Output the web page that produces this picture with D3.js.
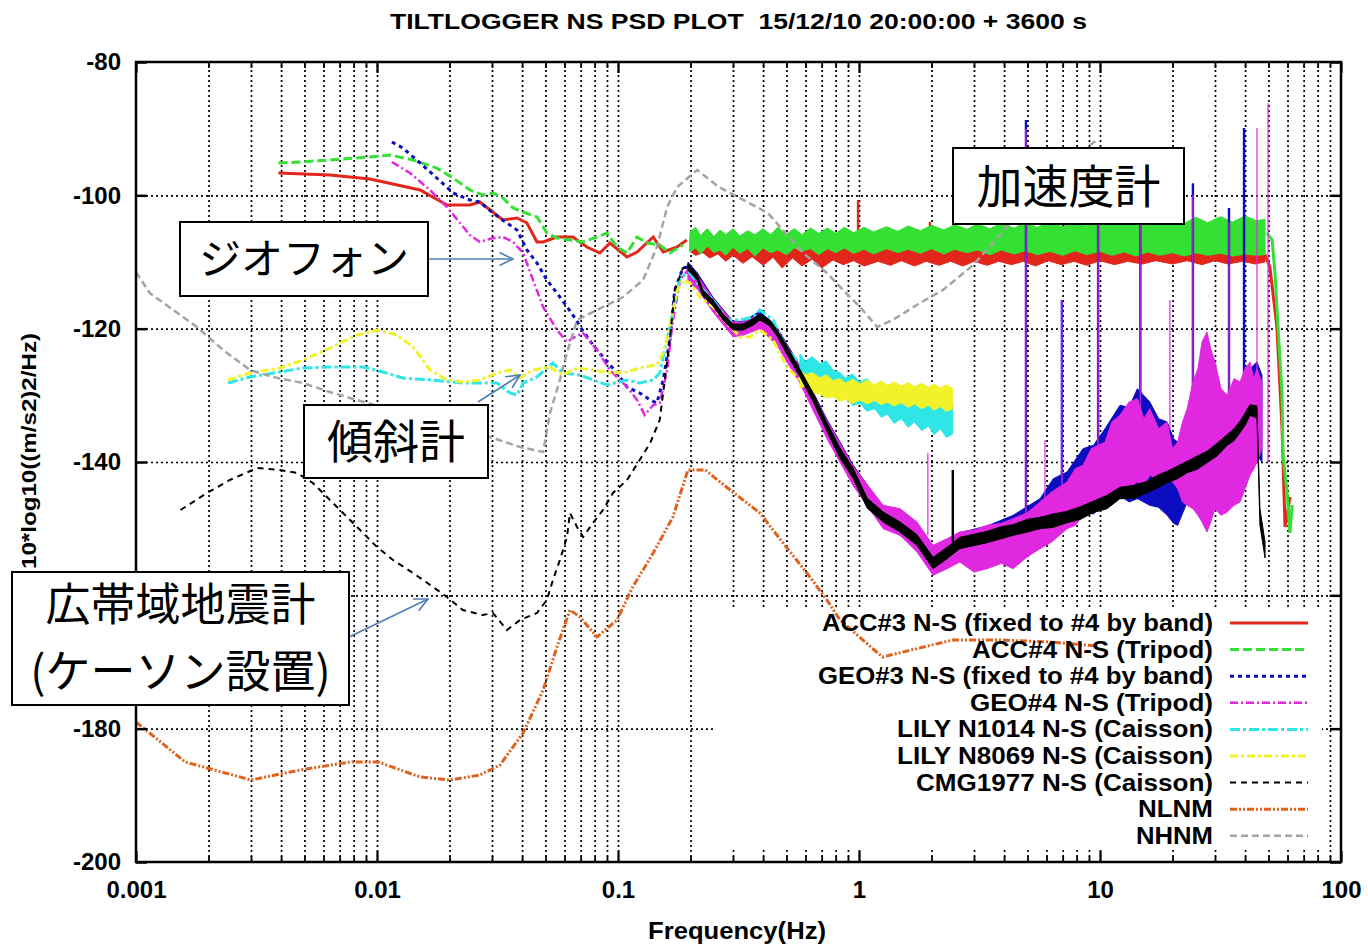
<!DOCTYPE html>
<html>
<head>
<meta charset="utf-8">
<script src="https://cdn.jsdelivr.net/npm/d3@7"></script>
<style>
  body { margin: 0; background: #fff; }
  text { font-family: "Liberation Sans", Arial, sans-serif; }
  .jp { font-family: "Noto Sans CJK JP", sans-serif; }
</style>
</head>
<body>
<svg id="chart" width="1368" height="946"></svg>
<script>
/* Axis ticks and labels (the -160 label sits under the annotation box in the original) */
var freqTicks = [0.001, 0.01, 0.1, 1, 10, 100];
var freqTickLabels = ["0.001", "0.01", "0.1", "1", "10", "100"];
var dbTicks = [-200, -180, -160, -140, -120, -100, -80];
var dbTickLabels = ["-200", "-180", "", "-140", "-120", "-100", "-80"];

var legendLabels = [
	"ACC#3 N-S (fixed to #4 by band)",
	"ACC#4 N-S (Tripod)",
	"GEO#3 N-S (fixed to #4 by band)",
	"GEO#4 N-S (Tripod)",
	"LILY N1014 N-S (Caisson)",
	"LILY N8069 N-S (Caisson)",
	"CMG1977 N-S (Caisson)",
	"NLNM",
	"NHNM"
];

/* Series values: [freq Hz, dB] for lines, [freq, upper dB, lower dB] for noisy bands,
   [freq, top dB, base dB] for narrow spikes */
var acc3Line = [[0.0039,-96.65],[0.00638,-96.95],[0.00935,-97.55],[0.0151,-99.2],[0.0195,-101.45],[0.0243,-101.45],[0.0267,-101.0],[0.0333,-103.7],[0.0381,-103.4],[0.0419,-104.15],[0.0461,-107.0],[0.0489,-107.0],[0.0558,-106.25],[0.065,-106.25],[0.0743,-107.75],[0.0841,-108.65],[0.0926,-107.15],[0.109,-109.25],[0.12,-108.5],[0.14,-106.25],[0.154,-108.5],[0.176,-107.75],[0.193,-106.7]];
var acc3Band = [[0.199,-106.3,-108.4],[0.21,-105.4,-109.0],[0.225,-106.6,-108.6],[0.24,-105.6,-109.4],[0.26,-106.9,-108.8],[0.28,-105.9,-109.9],[0.3,-107.0,-109.0],[0.33,-106.0,-110.2],[0.36,-107.2,-109.2],[0.4,-106.3,-110.5],[0.44,-107.3,-109.3],[0.48,-106.4,-110.9],[0.53,-107.4,-109.4],[0.58,-106.6,-110.6],[0.64,-107.5,-109.6],[0.7,-106.8,-110.9],[0.78,-107.6,-109.7],[0.86,-106.9,-110.4],[0.95,-107.7,-109.8],[1.05,-107.2,-110.6],[1.2,-107.8,-109.9],[1.35,-107.3,-110.5],[1.5,-107.9,-109.8],[1.7,-107.4,-110.6],[1.9,-108.0,-109.9],[2.15,-107.5,-110.5],[2.4,-108.1,-109.9],[2.7,-107.6,-110.6],[3.0,-108.1,-109.9],[3.4,-107.7,-110.5],[3.8,-108.2,-109.9],[4.3,-107.8,-110.4],[4.8,-108.3,-109.9],[5.4,-107.9,-110.6],[6.1,-108.3,-109.8],[6.9,-107.9,-110.4],[7.8,-108.4,-109.9],[8.8,-108.0,-110.5],[10,-108.4,-109.8],[11.5,-108.0,-110.4],[13,-108.4,-109.9],[15,-108.0,-110.3],[17,-108.5,-109.8],[20,-108.1,-110.3],[23,-108.5,-109.8],[26.5,-108.1,-110.4],[30,-108.5,-109.8],[34,-108.1,-110.3],[39,-108.5,-109.9],[44,-108.2,-110.3],[48.4,-108.4,-110.0]];
var acc3Tail = [[48.4,-108.9],[50.7,-110.75],[54.2,-119.75],[56.9,-134.75],[58.6,-149.75],[61.4,-145.25]];
var acc3Spikes = [[0.991,-100.7,-107],[1.97,-104,-107.5]];

var acc4Line = [[0.0039,-95.15],[0.00478,-95.0],[0.00638,-94.7],[0.00935,-94.25],[0.0113,-93.95],[0.0141,-94.7],[0.0177,-95.9],[0.0207,-97.4],[0.0243,-99.2],[0.0275,-99.95],[0.0303,-99.65],[0.0333,-100.4],[0.0367,-101.9],[0.0404,-102.5],[0.0461,-103.25],[0.0507,-105.65],[0.0558,-106.4],[0.0632,-106.7],[0.0716,-107.0],[0.0818,-106.25],[0.09,-105.65],[0.0991,-107.75],[0.109,-108.65],[0.12,-106.25],[0.132,-107.15],[0.149,-107.45],[0.164,-108.65],[0.186,-107.45]];
var acc4Band = [[0.199,-105.5,-108.5],[0.21,-104.8,-107.9],[0.22,-106.0,-108.8],[0.235,-105.0,-107.6],[0.25,-106.2,-108.6],[0.265,-105.2,-108.2],[0.28,-105.9,-109.0],[0.3,-105.0,-107.8],[0.32,-106.1,-108.7],[0.345,-105.3,-108.0],[0.37,-105.9,-109.1],[0.4,-105.0,-107.9],[0.43,-105.9,-108.6],[0.46,-104.8,-108.2],[0.5,-105.8,-108.9],[0.54,-105.0,-107.9],[0.58,-105.9,-108.4],[0.63,-104.9,-108.0],[0.68,-105.7,-108.9],[0.74,-104.9,-108.0],[0.8,-105.7,-108.6],[0.87,-104.8,-107.9],[0.95,-105.6,-108.7],[1.05,-104.8,-108.1],[1.15,-105.5,-108.8],[1.3,-104.7,-108.0],[1.45,-105.4,-108.6],[1.6,-104.6,-108.1],[1.8,-105.3,-108.7],[2.0,-104.5,-108.0],[2.25,-105.2,-108.8],[2.5,-104.4,-108.1],[2.8,-105.1,-108.6],[3.1,-104.3,-108.2],[3.5,-105.0,-108.9],[3.9,-104.2,-108.2],[4.4,-104.9,-108.8],[4.9,-104.1,-108.3],[5.5,-104.8,-108.9],[6.2,-104.0,-108.4],[7.0,-104.7,-109.0],[7.9,-103.9,-108.3],[8.8,-104.6,-108.9],[10,-103.8,-108.4],[11.2,-104.5,-109.0],[12.6,-103.6,-108.5],[14.1,-104.4,-109.1],[15.8,-103.5,-108.5],[17.7,-104.3,-109.0],[20,-103.4,-108.6],[22.4,-104.2,-109.1],[25,-103.3,-108.6],[28,-104.1,-109.0],[31.6,-103.2,-108.7],[35.5,-104.0,-109.1],[40,-103.1,-108.8],[44.7,-103.8,-109.0],[48.4,-103.6,-108.9]];
var acc4Tail = [[49.3,-105.65],[51.8,-106.7],[53.2,-111.65],[54.8,-119.75],[56.9,-129.65],[57.4,-138.65],[59.7,-144.65],[61.4,-150.65],[62.7,-146.45]];

var geo3Line = [[0.01153,-92.0],[0.0128,-92.9],[0.0151,-95.15],[0.0177,-97.4],[0.0207,-99.65],[0.0243,-100.7],[0.0267,-101.0],[0.0303,-102.65],[0.0346,-104.15],[0.0381,-105.2],[0.0419,-108.2],[0.0461,-110.15],[0.0507,-112.7],[0.0574,-115.25],[0.065,-117.95],[0.0716,-120.35],[0.0787,-122.45],[0.0866,-124.25],[0.0991,-126.65],[0.109,-128.75],[0.123,-129.65],[0.136,-130.7],[0.145,-131.15],[0.154,-127.7],[0.164,-121.7],[0.172,-114.2],[0.186,-110.9],[0.195,-110.75]];
var geo3Band = [[0.195,-110.0,-111.8],[0.213,-111.6,-113.2],[0.248,-115.3,-117],[0.3,-118.9,-120.6],[0.33,-118.9,-120.6],[0.388,-117.4,-119.2],[0.457,-119.8,-121.6],[0.569,-125.6,-127.6],[0.736,-133.6,-135.8],[0.944,-140.4,-142.8],[1.26,-146.8,-149.6],[1.48,-148.2,-151],[1.74,-149.8,-153],[2.03,-152.8,-156.4],[2.32,-151.8,-155],[2.62,-150.6,-154],[3.4,-149.6,-153],[4.36,-148,-152],[5.64,-145.5,-150.5],[6.4,-142.5,-150.2],[7.3,-141.5,-149],[8.5,-138,-147.5],[9.4,-137.5,-147.8],[10.5,-135,-146],[12.1,-131.5,-145],[13.2,-131.8,-146],[14.3,-129,-145.5],[16.1,-131,-146.5],[17.5,-133.5,-146.8],[19.0,-134,-148],[20.2,-136.5,-149.2],[21.0,-137,-149.5],[23.0,-135,-146],[25.5,-130,-145],[27.8,-127,-143],[30.0,-130,-144],[33.7,-132,-144],[38.1,-130,-142],[41.9,-126,-140],[44.8,-125,-139],[47,-127,-140]];
var geo3Spikes = [[4.93,-88.7,-148],[6.95,-115.7,-146],[9.82,-103.7,-144],[14.7,-104,-131],[24.3,-98.2,-136],[34.3,-101.9,-132],[39.6,-89.9,-131]];

var geo4Line = [[0.01153,-95.0],[0.0137,-96.65],[0.0166,-99.2],[0.0195,-101.75],[0.0221,-104.15],[0.0243,-105.95],[0.0267,-107.0],[0.0303,-106.4],[0.0333,-106.25],[0.0367,-107.0],[0.0404,-108.65],[0.0444,-112.7],[0.0489,-116.75],[0.0558,-120.2],[0.0614,-122.0],[0.065,-121.4],[0.0716,-120.65],[0.0818,-123.2],[0.0926,-126.2],[0.109,-128.75],[0.12,-130.7],[0.129,-132.95],[0.14,-131.45],[0.149,-131.15],[0.16,-126.2],[0.169,-118.7],[0.181,-112.7],[0.195,-111.2]];
var geo4Band = [[0.195,-110.5,-113],[0.213,-112,-114],[0.248,-115.5,-117.5],[0.3,-119,-121.2],[0.33,-119,-121],[0.388,-117.8,-120],[0.457,-120,-122.5],[0.569,-125.8,-128.2],[0.736,-133.8,-136.5],[0.944,-140.6,-143.5],[1.26,-146.5,-150],[1.48,-147,-151],[1.74,-149,-153.5],[2.03,-152.5,-157],[2.32,-151.5,-156],[2.62,-150.5,-155],[3.0,-150.2,-156.5],[3.4,-149.5,-156],[3.9,-149.2,-155.2],[4.36,-148.5,-156],[5.0,-147.6,-154.2],[5.64,-146,-153],[6.3,-144.5,-152],[7.3,-143,-150],[7.9,-141,-149.5],[8.5,-140.5,-148],[9.2,-138,-147.5],[10.5,-137,-146],[11.2,-134,-145.5],[12.1,-133,-144.5],[13.2,-131,-144],[14.3,-130.5,-143],[15.2,-133.5,-143.5],[16.1,-132,-142],[17.5,-135,-142.5],[19.0,-134,-141.5],[20,-138,-143],[21.0,-137,-144],[22,-134,-146],[23.0,-132,-146.5],[24.3,-128,-147],[25.5,-126,-148],[26.5,-122,-149],[27.8,-120.5,-150.5],[28.8,-123,-149],[30.0,-125,-147],[31.8,-129,-148],[33.7,-130,-147.5],[36,-127.5,-146.5],[38.1,-128,-146],[40,-126,-144],[41.9,-125,-142],[43.5,-127.5,-141],[44.8,-126,-140],[47,-128,-138]];
var geo4Spikes = [[1.93,-138.6,-151],[4.93,-90,-149],[5.91,-136.7,-148],[6.95,-115.7,-147],[9.82,-104,-145],[14.7,-104,-132],[19.5,-115.7,-135],[24.3,-100,-135],[34.3,-104,-132],[44.8,-89.9,-128],[49.8,-86.2,-140]];

var lily1014Line = [[0.00241,-128.15],[0.00297,-127.25],[0.00396,-126.5],[0.00493,-125.9],[0.00638,-125.75],[0.00875,-125.75],[0.0106,-126.5],[0.0128,-127.4],[0.0166,-127.7],[0.0227,-128.15],[0.0315,-128.15],[0.0356,-129.65],[0.0381,-129.95],[0.0404,-128.15],[0.0461,-127.25],[0.0537,-125.15],[0.0591,-126.65],[0.0695,-126.95],[0.09,-128.45],[0.109,-127.7],[0.123,-128.15],[0.14,-127.7],[0.149,-126.65],[0.164,-119.75],[0.181,-112.25],[0.199,-111.65],[0.219,-113.75],[0.248,-115.7],[0.283,-118.7],[0.321,-118.7],[0.363,-118.25],[0.388,-117.2],[0.44,-118.7],[0.502,-123.2],[0.569,-125.15]];
var lily1014Band = [[0.569,-123.8,-126.5],[0.6,-124.9,-126.8],[0.64,-124.2,-127.9],[0.689,-125.3,-128.1],[0.73,-124.8,-129.0],[0.78,-126.2,-129.3],[0.834,-126.6,-130.4],[0.88,-127.4,-130.0],[0.94,-126.8,-131.5],[1.01,-128.0,-131.2],[1.08,-127.5,-132.4],[1.16,-128.7,-132.0],[1.24,-128.1,-133.3],[1.31,-129.3,-132.8],[1.4,-128.8,-134.2],[1.5,-130.0,-133.5],[1.6,-129.2,-134.8],[1.7,-130.4,-134.0],[1.82,-129.8,-135.3],[1.94,-130.8,-134.6],[2.05,-130.2,-135.9],[2.18,-131.1,-135.0],[2.3,-130.5,-136.3],[2.45,-131.2,-135.8]];

var lily8069Line = [[0.00241,-127.7],[0.00297,-126.65],[0.00396,-125.9],[0.00493,-124.7],[0.00638,-122.9],[0.00826,-120.95],[0.01,-120.2],[0.0121,-120.95],[0.0141,-122.75],[0.0166,-126.2],[0.0195,-127.7],[0.0227,-128.0],[0.0267,-127.7],[0.0315,-126.65],[0.0356,-126.2],[0.0392,-127.4],[0.0444,-126.2],[0.0522,-125.75],[0.0591,-126.95],[0.0676,-125.9],[0.0787,-126.2],[0.0926,-126.65],[0.109,-126.5],[0.127,-125.75],[0.145,-125.45],[0.154,-123.65],[0.164,-119.75],[0.176,-114.2],[0.186,-112.7],[0.199,-113.15],[0.219,-115.25],[0.248,-116.75],[0.283,-119.15],[0.321,-121.25],[0.353,-121.25],[0.388,-120.2],[0.44,-121.7],[0.502,-125.75],[0.569,-127.7]];
var lily8069Band = [[0.569,-126.3,-128.9],[0.6,-126.9,-128.6],[0.64,-126.6,-129.6],[0.689,-127.4,-129.8],[0.73,-126.9,-130.4],[0.78,-127.8,-130.2],[0.834,-127.5,-130.9],[0.88,-128.2,-130.6],[0.94,-127.6,-131.2],[1.01,-128.3,-130.7],[1.08,-127.7,-131.3],[1.16,-128.4,-130.8],[1.24,-127.8,-131.4],[1.31,-128.5,-131.0],[1.4,-128.0,-131.6],[1.5,-128.6,-131.1],[1.6,-128.1,-131.8],[1.7,-128.7,-131.3],[1.82,-128.2,-132.0],[1.94,-128.8,-131.5],[2.05,-128.3,-132.2],[2.18,-128.9,-131.7],[2.3,-128.4,-132.4],[2.45,-129.0,-132.0]];

var cmgLine = [[0.00153,-147.2],[0.00197,-144.65],[0.00245,-142.7],[0.00318,-140.9],[0.00396,-141.2],[0.00466,-141.65],[0.00542,-143.15],[0.00638,-145.7],[0.00751,-148.25],[0.00875,-150.65],[0.01,-152.75],[0.01165,-154.7],[0.0141,-156.65],[0.0171,-158.75],[0.0195,-160.25],[0.0227,-162.2],[0.0275,-162.95],[0.0303,-162.65],[0.0346,-165.2],[0.0392,-163.7],[0.0461,-162.65],[0.0507,-160.7],[0.0537,-157.7],[0.0574,-154.7],[0.0614,-151.25],[0.0632,-147.65],[0.0676,-149.75],[0.0716,-151.25],[0.0787,-149.15],[0.0866,-147.2],[0.0953,-144.65],[0.109,-142.7],[0.123,-139.7],[0.136,-137.15],[0.149,-133.7],[0.164,-121.7],[0.172,-114.2],[0.186,-110.9],[0.195,-110.75]];
var cmgBand = [[0.195,-110.3,-111.2],[0.213,-111.8,-112.7],[0.225,-114.2,-115.1],[0.248,-115.7,-116.6],[0.273,-117.8,-118.7],[0.3,-119.3,-120.2],[0.33,-119.3,-120.2],[0.363,-118.5,-119.5],[0.388,-117.8,-118.7],[0.427,-118.7,-119.6],[0.457,-120.2,-121.1],[0.502,-122.6,-123.8],[0.569,-126.1,-127.2],[0.644,-129.6,-130.9],[0.736,-134.1,-135.4],[0.834,-137.9,-139.4],[0.944,-140.9,-142.4],[1.08,-145.4,-146.9],[1.26,-147.5,-149.0],[1.48,-149.0,-150.5],[1.74,-150.9,-152.5],[2.03,-154.3,-156.0],[2.32,-152.8,-154.5],[2.62,-151.3,-153.0],[3.4,-150.4,-152.1],[3.9,-149.7,-151.5],[4.36,-149.4,-151.0],[5.0,-148.6,-150.5],[5.64,-148.3,-150.0],[6.4,-147.8,-149.8],[7.3,-147.4,-149.1],[8.3,-146.7,-148.6],[9.35,-145.9,-147.6],[10.7,-145.0,-147.0],[12.1,-143.8,-145.5],[13.8,-143.5,-145.5],[15.7,-142.9,-144.6],[17.3,-142.0,-143.9],[19.0,-141.4,-143.1],[21,-140.6,-142.5],[23.0,-139.9,-141.6],[25.3,-139.1,-141.1],[27.8,-138.4,-140.1],[30.6,-137.2,-139.1],[33.7,-135.9,-137.5],[36,-135.0,-136.8],[38.1,-133.9,-135.6],[40,-132.7,-134.5],[41.9,-131.4,-133.0],[44.8,-131.6,-133.4],[46.1,-147.0,-149.5],[48.4,-152.0,-154.4]];
var cmgSpikes = [[2.45,-141.2,-152]];

var nlnm = [[0.001,-179.0],[0.0016,-185.0],[0.003,-187.7],[0.00479,-186.2],[0.00773,-185.0],[0.0101,-185.0],[0.0151,-187.25],[0.0201,-187.7],[0.0267,-186.95],[0.0324,-185.45],[0.0404,-180.65],[0.0489,-174.2],[0.0558,-167.75],[0.0632,-162.2],[0.0695,-163.25],[0.0818,-166.25],[0.0991,-163.7],[0.115,-158.75],[0.14,-153.65],[0.169,-148.25],[0.195,-141.2],[0.23,-141.2],[0.292,-144.2],[0.388,-147.65],[0.484,-152.15],[0.608,-156.65],[0.736,-160.7],[0.834,-163.7],[1.25,-169.25],[2.45,-166.7],[3.85,-166.7],[6.2,-167.0],[9.72,-167.6]];

var nhnm = [[0.001,-111.5],[0.00114,-114.65],[0.00179,-119.75],[0.0023,-123.2],[0.00297,-126.2],[0.0037,-127.25],[0.00493,-128.15],[0.00638,-129.5],[0.00826,-130.7],[0.0151,-133.4],[0.0294,-136.25],[0.0392,-137.75],[0.0489,-138.5],[0.0522,-132.65],[0.0574,-127.7],[0.0614,-123.65],[0.0676,-118.7],[0.0866,-116.75],[0.105,-115.25],[0.127,-112.7],[0.145,-107.75],[0.16,-101.75],[0.176,-98.75],[0.213,-96.2],[0.262,-98.75],[0.419,-102.65],[0.586,-108.65],[0.736,-111.65],[0.859,-114.2],[1.01,-116.75],[1.19,-119.75],[1.38,-118.7],[1.79,-116.15],[2.23,-114.2],[2.97,-110.5],[3.85,-105.95],[6.38,-96.5],[9.72,-91.7]];

/* Plot geometry */
var plotLeft = 136, plotRight = 1341, plotTop = 62, plotBottom = 862;
var x = d3.scaleLog().domain([0.001, 100]).range([plotLeft, plotRight]);
var y = d3.scaleLinear().domain([-200, -80]).range([plotBottom, plotTop]);
var svg = d3.select("#chart");

/* Line style per series, in legend order */
var series = [
	{ color: "#e3261c", width: 3,   dash: null,          line: acc3Line, band: acc3Band, tail: acc3Tail, spikes: acc3Spikes },
	{ color: "#33e033", width: 3,   dash: "9,4",         line: acc4Line, band: acc4Band, tail: acc4Tail },
	{ color: "#0c0cc0", width: 3,   dash: "4,4",         line: geo3Line, band: geo3Band, spikes: geo3Spikes },
	{ color: "#e028e0", width: 2.5, dash: "8,3,2,3",     line: geo4Line, band: geo4Band, spikes: geo4Spikes },
	{ color: "#2ee6e6", width: 3,   dash: "10,3,3,3",    line: lily1014Line, band: lily1014Band },
	{ color: "#f2f22a", width: 3,   dash: "8,3,3,3",     line: lily8069Line, band: lily8069Band },
	{ color: "#000000", width: 2,   dash: "6,5",         line: cmgLine, band: cmgBand, spikes: cmgSpikes },
	{ color: "#e0621e", width: 3,   dash: "7,2,2,2,2,2", line: nlnm },
	{ color: "#a4a4a4", width: 2.5, dash: "7,4",         line: nhnm }
];

/* Grid: dotted lines on every log tick and every 20 dB */
var gridFreqs = x.ticks().filter(function(f) { return f > 0.0011 && f < 95; });
svg.append("g")
	.attr("transform", "translate(0," + plotBottom + ")")
	.call(d3.axisBottom(x).tickValues(gridFreqs).tickSize(-(plotBottom - plotTop)).tickFormat(""))
	.call(function(g) { g.select(".domain").remove(); })
	.selectAll("line")
	.attr("stroke", "#000").attr("stroke-width", 1.7).attr("stroke-dasharray", "2,3");

svg.append("g")
	.attr("transform", "translate(" + plotLeft + ",0)")
	.call(d3.axisLeft(y).tickValues(dbTicks.slice(1, -1)).tickSize(-(plotRight - plotLeft)).tickFormat(""))
	.call(function(g) { g.select(".domain").remove(); })
	.selectAll("line")
	.attr("stroke", "#000").attr("stroke-width", 1.7).attr("stroke-dasharray", "2,3");

/* Key area is left blank of grid */
svg.append("rect")
	.attr("x", 715).attr("y", 607)
	.attr("width", 607).attr("height", 243)
	.attr("fill", "#fff");

/* Curves */
var lineGen = d3.line()
	.x(function(d) { return x(d[0]); })
	.y(function(d) { return y(d[1]); });
var areaGen = d3.area()
	.x(function(d) { return x(d[0]); })
	.y0(function(d) { return y(d[2]); })
	.y1(function(d) { return y(d[1]); });

series.forEach(function(s, i) {
	var g = svg.append("g").attr("class", "series-" + i);

	if (s.band) {
		g.append("path")
			.datum(s.band)
			.attr("d", areaGen)
			.attr("fill", s.color)
			.attr("stroke", s.color)
			.attr("stroke-width", 1)
			.attr("stroke-linejoin", "round");
	}

	g.append("path")
		.datum(s.line)
		.attr("d", lineGen)
		.attr("fill", "none")
		.attr("stroke", s.color)
		.attr("stroke-width", s.width)
		.attr("stroke-dasharray", s.dash);

	if (s.tail) {
		g.append("path")
			.datum(s.tail)
			.attr("d", lineGen)
			.attr("fill", "none")
			.attr("stroke", s.color)
			.attr("stroke-width", 3);
	}

	if (s.spikes) {
		g.selectAll(".spike")
			.data(s.spikes)
			.enter().append("line")
			.attr("class", "spike")
			.attr("x1", function(d) { return x(d[0]); })
			.attr("x2", function(d) { return x(d[0]); })
			.attr("y1", function(d) { return y(d[1]); })
			.attr("y2", function(d) { return y(d[2]); })
			.attr("stroke", s.color)
			.attr("stroke-opacity", i == 3 ? 0.75 : 1)
			.attr("stroke-width", i == 3 ? 1.6 : 2.4);
	}
});

/* Border and ticks */
function styleTicks(g, w) {
	g.select(".domain").remove();
	g.selectAll("line").attr("stroke", "#000").attr("stroke-width", w);
}

var minorFreqs = x.ticks().filter(function(f) { return freqTicks.indexOf(f) < 0; });

// bottom: major ticks with labels
var bottomAxis = svg.append("g")
	.attr("transform", "translate(0," + plotBottom + ")")
	.call(d3.axisBottom(x).tickValues(freqTicks)
		.tickFormat(function(d, i) { return freqTickLabels[i]; })
		.tickSizeInner(-11).tickSizeOuter(0).tickPadding(19))
	.call(styleTicks, 2.2);
bottomAxis.selectAll("text")
	.attr("font-size", 24).attr("font-weight", "bold").attr("fill", "#000")
	.attr("font-family", "'Liberation Sans', Arial, sans-serif");

svg.append("g")
	.attr("transform", "translate(0," + plotBottom + ")")
	.call(d3.axisBottom(x).tickValues(minorFreqs).tickFormat("").tickSize(-6))
	.call(styleTicks, 1.8);

// top
svg.append("g")
	.attr("transform", "translate(0," + plotTop + ")")
	.call(d3.axisTop(x).tickValues(freqTicks).tickFormat("").tickSize(-11))
	.call(styleTicks, 2.2);
svg.append("g")
	.attr("transform", "translate(0," + plotTop + ")")
	.call(d3.axisTop(x).tickValues(minorFreqs).tickFormat("").tickSize(-6))
	.call(styleTicks, 1.8);

// left with labels
var leftAxis = svg.append("g")
	.attr("transform", "translate(" + plotLeft + ",0)")
	.call(d3.axisLeft(y).tickValues(dbTicks)
		.tickFormat(function(d, i) { return dbTickLabels[i]; })
		.tickSizeInner(-11).tickSizeOuter(0).tickPadding(15))
	.call(styleTicks, 2.5);
leftAxis.selectAll("text")
	.attr("font-size", 24).attr("font-weight", "bold").attr("fill", "#000")
	.attr("font-family", "'Liberation Sans', Arial, sans-serif");

// right
svg.append("g")
	.attr("transform", "translate(" + plotRight + ",0)")
	.call(d3.axisRight(y).tickValues(dbTicks).tickFormat("").tickSize(-11))
	.call(styleTicks, 2.5);

svg.append("rect")
	.attr("x", plotLeft).attr("y", plotTop)
	.attr("width", plotRight - plotLeft).attr("height", plotBottom - plotTop)
	.attr("fill", "none").attr("stroke", "#000").attr("stroke-width", 2.5);

/* Title and axis labels */
svg.append("text")
	.attr("x", 390).attr("y", 29)
	.attr("textLength", 697).attr("lengthAdjust", "spacingAndGlyphs")
	.attr("font-size", 22).attr("font-weight", "bold")
	.text("TILTLOGGER NS PSD PLOT\u00a0\u00a015/12/10 20:00:00 + 3600 s");

svg.append("text")
	.attr("x", 648).attr("y", 939)
	.attr("textLength", 178).attr("lengthAdjust", "spacingAndGlyphs")
	.attr("font-size", 23).attr("font-weight", "bold")
	.text("Frequency(Hz)");

svg.append("text")
	.attr("transform", "translate(36,569) rotate(-90)")
	.attr("textLength", 236).attr("lengthAdjust", "spacingAndGlyphs")
	.attr("font-size", 21).attr("font-weight", "bold")
	.text("10*log10((m/s2)2/Hz)");

/* Legend */
var legendTop = 623, legendStep = 26.6;
var legendWidths = [391, 241, 395, 243, 316, 316, 297, 75, 77];
var legend = svg.append("g");
series.forEach(function(s, i) {
	var ly = legendTop + i * legendStep;
	legend.append("text")
		.attr("x", 1213 - legendWidths[i]).attr("y", ly + 8)
		.attr("textLength", legendWidths[i]).attr("lengthAdjust", "spacingAndGlyphs")
		.attr("font-size", 23).attr("font-weight", "bold")
		.text(legendLabels[i]);
	legend.append("line")
		.attr("x1", 1230).attr("x2", 1308)
		.attr("y1", ly).attr("y2", ly)
		.attr("stroke", s.color)
		.attr("stroke-width", s.width)
		.attr("stroke-dasharray", s.dash);
});

/* Japanese annotation boxes with arrows */
function arrow(x1, y1, x2, y2) {
	var a = Math.atan2(y2 - y1, x2 - x1), len = 15, spread = 0.45;
	var g = svg.append("g").attr("stroke", "#4a7ebb").attr("stroke-width", 1.6).attr("fill", "none");
	g.append("line").attr("x1", x1).attr("y1", y1).attr("x2", x2).attr("y2", y2);
	g.append("polyline").attr("points", [
		[x2 - len * Math.cos(a - spread), y2 - len * Math.sin(a - spread)],
		[x2, y2],
		[x2 - len * Math.cos(a + spread), y2 - len * Math.sin(a + spread)]
	].map(function(p) { return p.join(","); }).join(" "));
}

function noteBox(bx, by, bw, bh, lines, size) {
	svg.append("rect")
		.attr("x", bx).attr("y", by).attr("width", bw).attr("height", bh)
		.attr("fill", "#fff").attr("stroke", "#000").attr("stroke-width", 2);
	var lh = bh / lines.length;
	lines.forEach(function(t, i) {
		svg.append("text")
			.attr("class", "jp")
			.attr("x", bx + bw / 2)
			.attr("y", by + lh * i + lh / 2)
			.attr("dy", "0.36em")
			.attr("text-anchor", "middle")
			.attr("font-size", size)
			.text(t);
	});
}

arrow(428, 259, 513, 259);
arrow(478, 402, 520, 375);
arrow(349, 637, 428, 599);

noteBox(180, 222, 248, 74, ["ジオフォン"], 42);
noteBox(953, 148, 231, 76, ["加速度計"], 46);
noteBox(304, 405, 184, 73, ["傾斜計"], 46);
noteBox(12, 572, 337, 133, ["広帯域地震計", "(ケーソン設置)"], 45);
</script>
</body>
</html>
